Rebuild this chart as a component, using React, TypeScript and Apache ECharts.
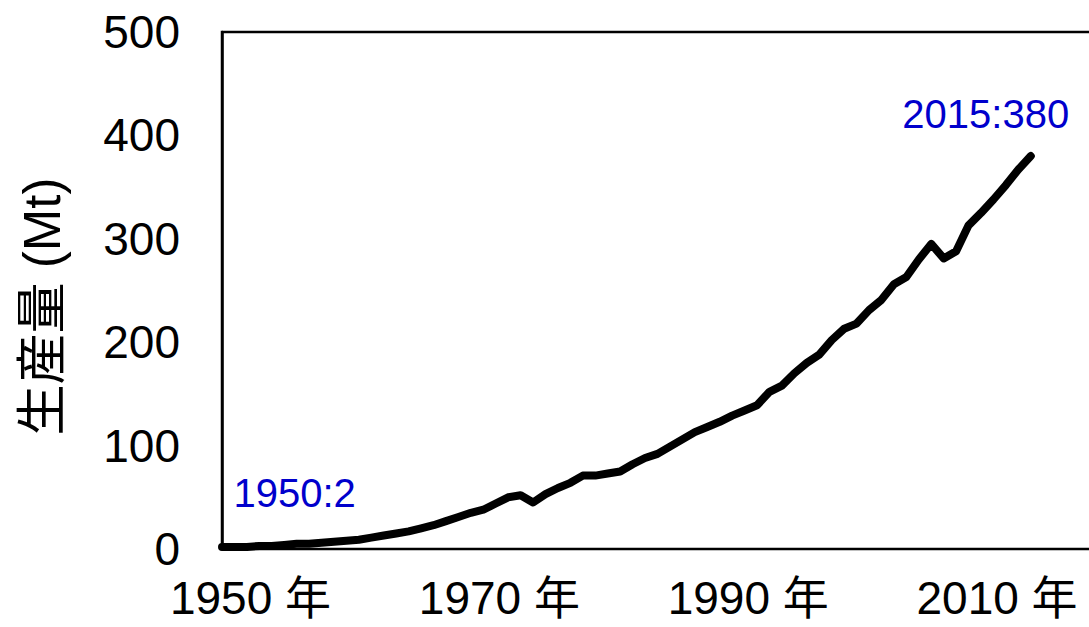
import React, { useEffect, useRef } from "react";
import * as echarts from "echarts";

const years: number[] = [
  1950, 1951, 1952, 1953, 1954, 1955, 1956, 1957, 1958, 1959,
  1960, 1961, 1962, 1963, 1964, 1965, 1966, 1967, 1968, 1969,
  1970, 1971, 1972, 1973, 1974, 1975, 1976, 1977, 1978, 1979,
  1980, 1981, 1982, 1983, 1984, 1985, 1986, 1987, 1988, 1989,
  1990, 1991, 1992, 1993, 1994, 1995, 1996, 1997, 1998, 1999,
  2000, 2001, 2002, 2003, 2004, 2005, 2006, 2007, 2008, 2009,
  2010, 2011, 2012, 2013, 2014, 2015,
];
const production: number[] = [
  2, 2, 2, 3, 3, 4, 5, 5, 6, 7,
  8, 9, 11, 13, 15, 17, 20, 23, 27, 31,
  35, 38, 44, 50, 52, 45, 53, 59, 64, 71,
  71, 73, 75, 82, 88, 92, 99, 106, 113, 118,
  123, 129, 134, 139, 152, 158, 170, 180, 188, 202,
  213, 218, 231, 241, 256, 263, 280, 295, 281, 288,
  313, 325, 338, 352, 367, 380,
];
const xTicks: number[] = [1950, 1970, 1990, 2010];
const yTicks: number[] = [0, 100, 200, 300, 400, 500];
const yTitle = "生産量 (Mt)";
const yearSuffix = " 年";

const FONT = "'Liberation Sans', Arial, 'Noto Sans CJK JP', sans-serif";

export default function App() {
  const ref = useRef<HTMLDivElement>(null);
  useEffect(() => {
    if (!ref.current) return;
    const chart = echarts.init(ref.current, undefined, { renderer: "svg" });
    const lineData = years.map((y, i) => [y, production[i]]);
    const first = 0;
    const last = years.length - 1;
    const annot = [
      {
        value: [years[first], production[first]],
        label: { offset: [6, -54] },
      },
      {
        value: [years[last], production[last]],
        label: { offset: [-134, -42] },
      },
    ];
    chart.setOption({
      animation: false,
      backgroundColor: "#ffffff",
      grid: {
        left: 222,
        top: 32,
        height: 517,
        width: 871,
        show: true,
        borderColor: "#000000",
        borderWidth: 2.5,
        containLabel: false,
      },
      xAxis: {
        type: "value",
        min: 1950,
        max: 2020,
        interval: 20,
        axisLine: { show: true, lineStyle: { color: "#000", width: 2 } },
        axisTick: { show: false },
        splitLine: { show: false },
        axisLabel: {
          margin: 26,
          color: "#000",
          fontFamily: FONT,
          fontSize: 46,
          showMaxLabel: false,
          formatter: (v: number) =>
            xTicks.includes(v) ? `{sp| }{t|${v}${yearSuffix}}` : "",
          rich: {
            sp: { width: 57, fontSize: 46, fontFamily: FONT },
            t: { fontSize: 46, fontFamily: FONT, color: "#000" },
          },
        },
      },
      yAxis: {
        type: "value",
        min: yTicks[0],
        max: yTicks[yTicks.length - 1],
        interval: 100,
        name: yTitle,
        nameLocation: "middle",
        nameRotate: 90,
        nameGap: 154,
        nameTextStyle: {
          fontFamily: FONT,
          fontSize: 51,
          color: "#000",
          padding: [0, 32, 0, 0],
        },
        axisLine: { show: true, lineStyle: { color: "#000", width: 2.5 } },
        axisTick: { show: false },
        splitLine: { show: false },
        axisLabel: {
          margin: 42,
          color: "#000",
          fontFamily: FONT,
          fontSize: 46,
        },
      },
      series: [
        {
          type: "line",
          data: lineData,
          showSymbol: false,
          symbol: "none",
          lineStyle: { color: "#000", width: 8, join: "round", cap: "round" },
          z: 3,
        },
        {
          type: "scatter",
          data: annot,
          symbolSize: 1,
          itemStyle: { color: "#ffffff", opacity: 0 },
          label: {
            show: true,
            position: "right",
            distance: 5,
            color: "#0000CC",
            opacity: 1,
            fontFamily: FONT,
            fontSize: 40,
            formatter: (p: any) => `${p.value[0]}:${p.value[1]}`,
          },
          z: 4,
        },
      ],
    });
    return () => chart.dispose();
  }, []);
  return (
    <div
      style={{
        position: "fixed",
        left: 0,
        top: 0,
        width: 1089,
        height: 627,
        overflow: "hidden",
        background: "#fff",
      }}
    >
      <div ref={ref} style={{ width: 1130, height: 627 }} />
    </div>
  );
}
